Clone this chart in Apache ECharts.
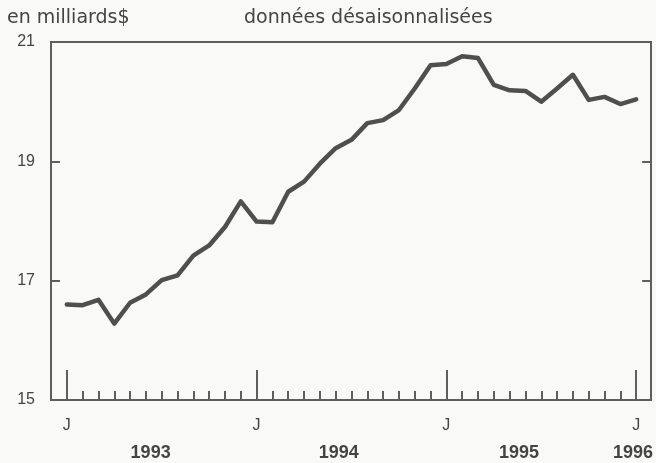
<!DOCTYPE html>
<html>
<head>
<meta charset="utf-8">
<script src="https://cdn.jsdelivr.net/npm/echarts@6/dist/echarts.min.js"></script>
<style>
html,body{margin:0;padding:0;background:#f9f9f7;}
#c{width:656px;height:463px;}
</style>
</head>
<body>
<div id="c"></div>
<script>
// Monthly values, Jan 1993 .. Jan 1996 (billions $, seasonally adjusted)
var months = ['1993-01','1993-02','1993-03','1993-04','1993-05','1993-06','1993-07','1993-08','1993-09','1993-10','1993-11','1993-12',
              '1994-01','1994-02','1994-03','1994-04','1994-05','1994-06','1994-07','1994-08','1994-09','1994-10','1994-11','1994-12',
              '1995-01','1995-02','1995-03','1995-04','1995-05','1995-06','1995-07','1995-08','1995-09','1995-10','1995-11','1995-12',
              '1996-01'];
var values = [16.60,16.59,16.68,16.28,16.63,16.77,17.01,17.09,17.42,17.59,17.90,18.33,
              17.99,17.98,18.49,18.66,18.96,19.22,19.36,19.64,19.69,19.86,20.22,20.61,
              20.63,20.76,20.73,20.28,20.19,20.18,20.00,20.22,20.45,20.03,20.08,19.96,
              20.04];
var yTicks = [15, 17, 19, 21];
var januaryLabel = 'J';
var yearLabels = ['1993', '1994', '1995', '1996'];
var yearLabelMonths = [5.3, 17.2, 28.6, 35.8];
var unitLabel = 'en milliards$';
var noteLabel = 'données désaisonnalisées';

// month indices: 0 = Jan 1993
var monthIdx = months.map(function (m, i) { return i; });
var minorTickMonths = [-1].concat(monthIdx);
var januaryMonths = monthIdx.filter(function (i) { return months[i].slice(5) === '01'; });
var seriesData = monthIdx.map(function (i) { return [i, values[i]]; });

var frame = '#5e5e5c';
var textCol = '#444';
var xMin = -1, xMax = 36.95;

var chart = echarts.init(document.getElementById('c'), null, {renderer: 'canvas'});
chart.setOption({
  backgroundColor: '#f9f9f7',
  animation: false,
  title: [
    {text: unitLabel, left: 7, top: 9, padding: 0,
     textStyle: {fontFamily: 'DejaVu Sans', fontSize: 19, fontWeight: 'normal', color: textCol}},
    {text: noteLabel, left: 244, top: 9, padding: 0,
     textStyle: {fontFamily: 'DejaVu Sans', fontSize: 19, fontWeight: 'normal', color: textCol}}
  ],
  grid: {left: 51, right: 3, top: 42, bottom: 63, containLabel: false},
  xAxis: [
    {type: 'value', min: xMin, max: xMax, position: 'bottom',
     axisLine: {show: true, onZero: false, lineStyle: {color: frame, width: 2}},
     axisTick: {show: true, inside: true, length: 9, customValues: minorTickMonths,
                lineStyle: {color: frame, width: 2}},
     axisLabel: {show: true, customValues: januaryMonths, margin: 18,
                 formatter: function () { return januaryLabel; },
                 fontFamily: 'Liberation Sans', fontSize: 16, color: textCol},
     splitLine: {show: false}},
    {type: 'value', min: xMin, max: xMax, position: 'bottom',
     axisLine: {show: false, onZero: false},
     axisTick: {show: true, inside: true, length: 30, customValues: januaryMonths,
                lineStyle: {color: frame, width: 2}},
     axisLabel: {show: false},
     splitLine: {show: false}},
    {type: 'value', min: xMin, max: xMax, position: 'bottom',
     axisLine: {show: false, onZero: false},
     axisTick: {show: false},
     axisLabel: {show: true, customValues: yearLabelMonths, margin: 44,
                 formatter: function (v) {
                   var k = yearLabelMonths.indexOf(v);
                   return k >= 0 ? yearLabels[k] : '';
                 },
                 fontFamily: 'Liberation Sans', fontSize: 18, fontWeight: 'bold', color: textCol},
     splitLine: {show: false}},
    {type: 'value', min: xMin, max: xMax, position: 'top',
     axisLine: {show: true, onZero: false, lineStyle: {color: frame, width: 2}},
     axisTick: {show: false}, axisLabel: {show: false}, splitLine: {show: false}}
  ],
  yAxis: [
    {type: 'value', min: 15, max: 21, position: 'left',
     axisLine: {show: true, onZero: false, lineStyle: {color: frame, width: 2}},
     axisTick: {show: true, inside: true, length: 9, customValues: yTicks,
                lineStyle: {color: frame, width: 2}},
     axisLabel: {show: true, customValues: yTicks, margin: 16,
                 fontFamily: 'Liberation Sans', fontSize: 16, color: textCol},
     splitLine: {show: false}},
    {type: 'value', min: 15, max: 21, position: 'right',
     axisLine: {show: true, onZero: false, lineStyle: {color: frame, width: 2}},
     axisTick: {show: true, inside: true, length: 9, customValues: yTicks,
                lineStyle: {color: frame, width: 2}},
     axisLabel: {show: false},
     splitLine: {show: false}}
  ],
  series: [{
    type: 'line',
    xAxisIndex: 0, yAxisIndex: 0,
    data: seriesData,
    showSymbol: false,
    symbol: 'none',
    smooth: false,
    lineStyle: {color: '#4f4f4d', width: 4.5, cap: 'round', join: 'round'}
  }]
});
</script>
</body>
</html>
